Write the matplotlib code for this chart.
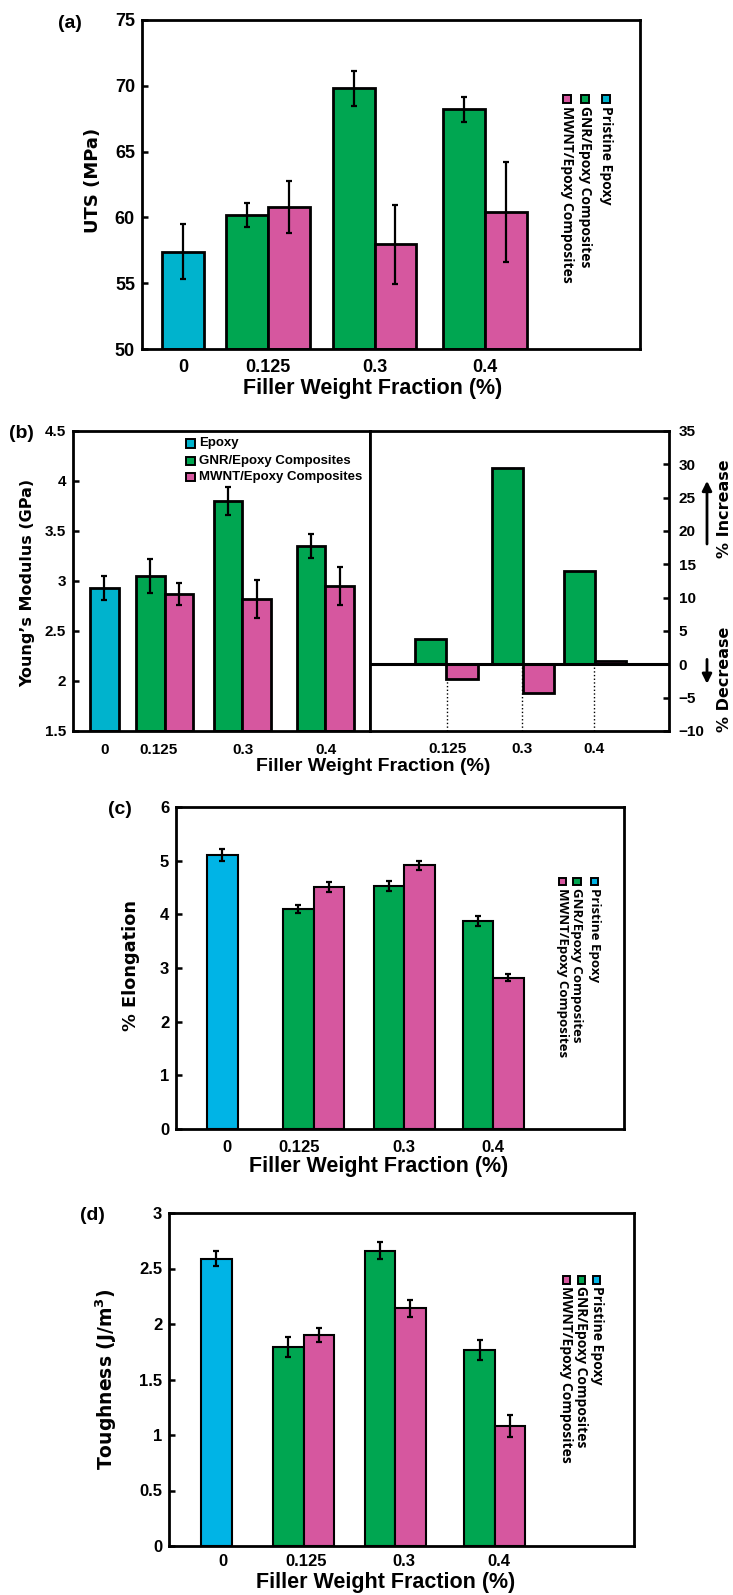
import numpy as np
import matplotlib as mpl
mpl.use('agg')
import matplotlib.pyplot as plt
from matplotlib.patches import Rectangle

## data
x_labels = ['0', '0.125', '0.3', '0.4']
names = ['Pristine Epoxy', 'GNR/Epoxy Composites', 'MWNT/Epoxy Composites']

uts_pristine, uts_pristine_err = 57.4, 2.1
uts_gnr = [60.2, 69.8, 68.2]
uts_gnr_err = [0.9, 1.35, 0.95]
uts_mwnt = [60.8, 57.95, 60.4]
uts_mwnt_err = [2.0, 3.0, 3.8]

mod_epoxy, mod_epoxy_err = 2.93, 0.12
mod_gnr = [3.05, 3.80, 3.35]
mod_gnr_err = [0.17, 0.14, 0.12]
mod_mwnt = [2.87, 2.82, 2.95]
mod_mwnt_err = [0.11, 0.19, 0.19]
pct_gnr = [3.8, 29.4, 14.0]
pct_mwnt = [-2.2, -4.3, 0.45]

elong_pristine, elong_pristine_err = 5.11, 0.11
elong_gnr = [4.10, 4.53, 3.88]
elong_gnr_err = [0.08, 0.09, 0.09]
elong_mwnt = [4.51, 4.91, 2.82]
elong_mwnt_err = [0.10, 0.08, 0.07]

tough_pristine, tough_pristine_err = 2.59, 0.07
tough_gnr = [1.79, 2.66, 1.77]
tough_gnr_err = [0.09, 0.075, 0.09]
tough_mwnt = [1.90, 2.14, 1.08]
tough_mwnt_err = [0.06, 0.08, 0.10]

GREEN = '#00A651'
PINK = '#D6579F'
CYAN_A = '#00B3CD'
CYAN_C = '#00B4E6'

NARROW = ['Liberation Sans', 'DejaVu Sans']

W, H = 733, 1595
fig = plt.figure(figsize=(W / 100, H / 100), dpi=100)


def rect(l, r, t, b):
    return [l / W, 1 - b / H, (r - l) / W, (b - t) / H]


def style_axes(ax, tsize, xpad, ypad):
    for s in ax.spines.values():
        s.set_linewidth(2.0)
    ax.tick_params(axis='y', direction='in', length=4, width=1.8, pad=ypad,
                   labelsize=tsize)
    ax.tick_params(axis='x', length=0, pad=xpad, labelsize=tsize)
    for lab in ax.get_xticklabels() + ax.get_yticklabels():
        lab.set_family(NARROW)
        lab.set_weight('bold')


def grouped(ax, x0, pristine, perr, gnr_x, gnr, gerr, mwnt, merr, w, cyan, lw, ylo):
    ekw = dict(ecolor='black', elinewidth=1.6, capsize=2.2, capthick=1.6)
    ax.bar(x0, pristine - ylo, w, bottom=ylo, align='edge', color=cyan,
           edgecolor='black', linewidth=lw, yerr=perr, error_kw=ekw, zorder=2)
    gx = np.array(gnr_x)
    ax.bar(gx, np.array(gnr) - ylo, w, bottom=ylo, align='edge', color=GREEN,
           edgecolor='black', linewidth=lw, yerr=gerr, error_kw=ekw, zorder=2)
    ax.bar(gx + w, np.array(mwnt) - ylo, w, bottom=ylo, align='edge', color=PINK,
           edgecolor='black', linewidth=lw, yerr=merr, error_kw=ekw, zorder=2)
    ax.set_xlim(0, 1)


def rot_legend(ax, xs, ysq, ytxt, cyan, size):
    colors = [cyan, GREEN, PINK]
    for x, c, n in zip(xs, colors, names):
        ax.add_patch(Rectangle((x - 0.008, ysq - 0.011), 0.016, 0.022,
                               transform=ax.transAxes, facecolor=c,
                               edgecolor='black', linewidth=1.4, clip_on=False))
        ax.text(x, ytxt, n, rotation=-90, ha='center', va='top',
                transform=ax.transAxes, fontsize=size, fontweight='bold',
                family=['Open Sans', 'DejaVu Sans'])


def panel_label(txt, x, y):
    fig.text(x / W, 1 - y / H, txt, ha='center', va='center', fontsize=14,
             fontweight='bold', family=['Liberation Sans', 'DejaVu Sans'])


XLAB = 'Filler Weight Fraction (%)'

# ---------------- (a) UTS
ax = fig.add_axes(rect(141.9, 640, 20, 349))
grouped(ax, 0.0406, uts_pristine, uts_pristine_err, [0.1698, 0.383, 0.6047],
        uts_gnr, uts_gnr_err, uts_mwnt, uts_mwnt_err, 0.084, CYAN_A, 2.0, 50)
ax.set_ylim(50, 75)
ax.set_yticks([50, 55, 60, 65, 70, 75])
ax.set_xticks([0.083, 0.2528, 0.467, 0.6887])
ax.set_xticklabels(x_labels)
style_axes(ax, 13, 7, 5)
ax.text(-0.099, 0.511, 'UTS (MPa)', rotation=90, ha='center', va='center',
        transform=ax.transAxes, fontsize=13, fontweight='bold')
ax.text(0.464, -0.119, XLAB, ha='center', va='center', transform=ax.transAxes,
        fontsize=15.5, fontweight='bold', family=NARROW)
rot_legend(ax, [0.932, 0.890, 0.854], 0.76, 0.74, CYAN_A, 10)
panel_label('(a)', 70, 23)

# ---------------- (b) Young's modulus
axl = fig.add_axes(rect(72.8, 369.8, 431, 731))
grouped(axl, 0.0585, mod_epoxy, mod_epoxy_err, [0.2136, 0.4747, 0.7547],
        mod_gnr, mod_gnr_err, mod_mwnt, mod_mwnt_err, 0.096, CYAN_A, 2.0, 1.5)
axl.set_ylim(1.5, 4.5)
axl.set_yticks([1.5, 2, 2.5, 3, 3.5, 4, 4.5])
axl.set_yticklabels(['1.5', '2', '2.5', '3', '3.5', '4', '4.5'])
axl.set_xticks([0.106, 0.2896, 0.5728, 0.8513])
axl.set_xticklabels(x_labels)
style_axes(axl, 11, 9, 5)
axl.text(-0.153, 0.493, 'Young\u2019s Modulus (GPa)', rotation=90, ha='center',
         va='center', transform=axl.transAxes, fontsize=11.5, fontweight='bold')
leg_y = [0.959, 0.901, 0.846]
for y, c, n in zip(leg_y, [CYAN_A, GREEN, PINK],
                   ['Epoxy', 'GNR/Epoxy Composites', 'MWNT/Epoxy Composites']):
    axl.add_patch(Rectangle((0.380, y - 0.014), 0.030, 0.028, transform=axl.transAxes,
                            facecolor=c, edgecolor='black', linewidth=1.4))
    axl.text(0.425, y, n, ha='left', va='center', transform=axl.transAxes,
             fontsize=9.5, fontweight='bold', family=NARROW)

axr = fig.add_axes(rect(369.8, 669, 431, 731))
rx = np.array([0.1513, 0.4072, 0.6474])
rw = 0.105
axr.bar(rx, pct_gnr, rw, align='edge', color=GREEN, edgecolor='black',
        linewidth=2.0, zorder=2)
axr.bar(rx + rw, pct_mwnt, rw, align='edge', color=PINK, edgecolor='black',
        linewidth=2.0, zorder=2)
axr.axhline(0, color='black', linewidth=2.2, zorder=3)
r_ticks = [0.259, 0.5086, 0.7504]
axr.vlines(r_ticks, -10, 0, colors='black', linestyles=':', linewidth=1.0, zorder=1)
axr.set_xlim(0, 1)
axr.set_ylim(-10, 35)
axr.set_yticks(np.arange(-10, 36, 5))
axr.set_xticks(r_ticks)
axr.set_xticklabels(x_labels[1:])
axr.yaxis.tick_right()
style_axes(axr, 11, 8, 7)
axr.text(1.184, 0.74, '% Increase', rotation=90, ha='center', va='center',
         transform=axr.transAxes, fontsize=11.5, fontweight='bold')
axr.text(1.184, 0.173, '% Decrease', rotation=90, ha='center', va='center',
         transform=axr.transAxes, fontsize=11.5, fontweight='bold')
axr.annotate('', xy=(1.127, 0.843), xytext=(1.127, 0.614), xycoords='axes fraction',
             arrowprops=dict(arrowstyle='-|>', color='black', lw=2.0,
                             mutation_scale=14))
axr.annotate('', xy=(1.127, 0.148), xytext=(1.127, 0.248), xycoords='axes fraction',
             arrowprops=dict(arrowstyle='-|>', color='black', lw=2.0,
                             mutation_scale=14))
fig.text(372.9 / W, 1 - 766.7 / H, XLAB, ha='center', va='center', fontsize=14,
         fontweight='bold', family=NARROW)
panel_label('(b)', 21, 433)

# ---------------- (c) elongation
ax = fig.add_axes(rect(176.2, 624, 807, 1129))
grouped(ax, 0.069, elong_pristine, elong_pristine_err, [0.239, 0.441, 0.640],
        elong_gnr, elong_gnr_err, elong_mwnt, elong_mwnt_err, 0.068, CYAN_C, 1.5, 0)
ax.set_ylim(0, 6)
ax.set_yticks(range(7))
ax.set_xticks([0.113, 0.275, 0.509, 0.708])
ax.set_xticklabels(x_labels)
style_axes(ax, 12, 8, 5)
ax.text(-0.102, 0.509, '% Elongation', rotation=90, ha='center', va='center',
        transform=ax.transAxes, fontsize=12.8, fontweight='bold')
ax.text(0.453, -0.117, XLAB, ha='center', va='center', transform=ax.transAxes,
        fontsize=15.5, fontweight='bold', family=NARROW)
rot_legend(ax, [0.934, 0.895, 0.862], 0.768, 0.748, CYAN_C, 9.5)
panel_label('(c)', 120, 810)

# ---------------- (d) toughness
ax = fig.add_axes(rect(169.2, 634.4, 1213, 1546))
grouped(ax, 0.0687, tough_pristine, tough_pristine_err, [0.2232, 0.4202, 0.6343],
        tough_gnr, tough_gnr_err, tough_mwnt, tough_mwnt_err, 0.0655, CYAN_C, 1.5, 0)
ax.set_ylim(0, 3)
ax.set_yticks([0, 0.5, 1, 1.5, 2, 2.5, 3])
ax.set_yticklabels(['0', '0.5', '1', '1.5', '2', '2.5', '3'])
ax.set_xticks([0.115, 0.295, 0.505, 0.709])
ax.set_xticklabels(x_labels)
style_axes(ax, 12, 6, 5)
ax.text(-0.136, 0.5, 'Toughness (J/m$^{\\mathbf{3}}$)', rotation=90, ha='center',
        va='center', transform=ax.transAxes, fontsize=13.5, fontweight='bold')
ax.text(0.466, -0.111, XLAB, ha='center', va='center', transform=ax.transAxes,
        fontsize=15.5, fontweight='bold', family=NARROW)
rot_legend(ax, [0.919, 0.886, 0.854], 0.799, 0.781, CYAN_C, 10)
panel_label('(d)', 92.6, 1215)

fig.savefig('out.png', dpi=100)
